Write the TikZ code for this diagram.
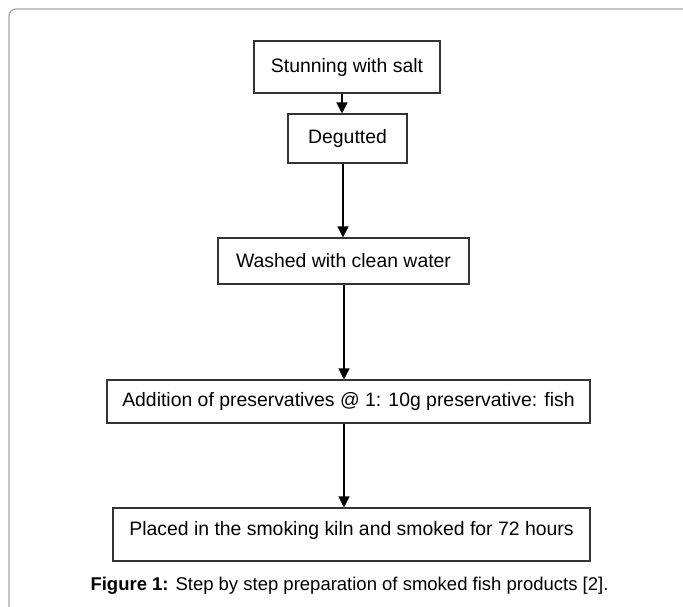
\documentclass[tikz,border=0pt]{standalone}
\usepackage{fontspec}
\setmainfont{Liberation Sans}
\usetikzlibrary{arrows.meta}
\newcommand\stepfont{\fontsize{19.4}{23}\selectfont}
\newcommand\capfont{\fontsize{18.5}{22}\selectfont}

\begin{document}
\begin{tikzpicture}[x=1pt,y=-1pt,
    stepbox/.style={draw=black!80,line width=1.1pt,inner sep=0pt,font=\stepfont},
    flow/.style={line width=1.4pt,-{Triangle[width=11pt,length=11pt]}}]
    \useasboundingbox (0,0) rectangle (683,606);
    % frame
    \draw[black!35,line width=1.2pt,rounded corners=7pt] (9,620) -- (9,9) -- (700,9);
    % steps
    \node[stepbox,minimum width=186pt,minimum height=52pt] (salt) at (347,67) {Stunning with salt};
    \node[stepbox,minimum width=119pt,minimum height=49pt] (gut) at (347.5,138.5) {Degutted};
    \node[stepbox,minimum width=251pt,minimum height=46pt] (wash) at (343.5,261) {Washed with clean water};
    \node[stepbox,minimum width=483pt,minimum height=43pt] (pres) at (348.5,401.5) {Addition of preservatives @ 1: 10g preservative: fish};
    \node[stepbox,minimum width=477pt,text height=27pt,text depth=26pt] (kiln) at (351.5,534.5) {Placed in the smoking kiln and smoked for 72 hours};
    \node[font=\capfont] (cap) at (349.5,586) {\textbf{Figure 1:} Step by step preparation of smoked fish products [2].};
    % arrows
    \foreach \a/\b/\x in {salt/gut/342,gut/wash/343,wash/pres/344,pres/kiln/344}
      \draw[flow] (\a.south -| \x,0) -- (\b.north -| \x,0);
\end{tikzpicture}
\end{document}
